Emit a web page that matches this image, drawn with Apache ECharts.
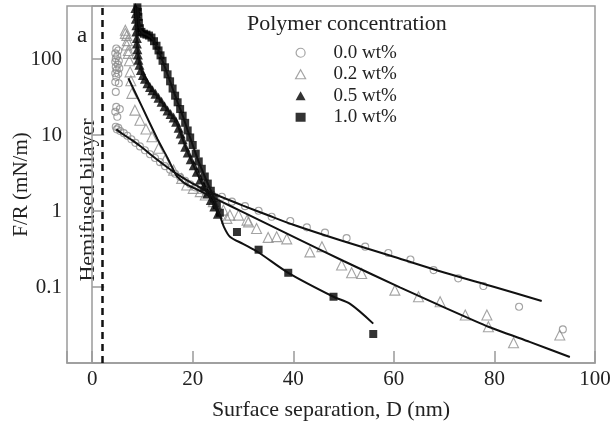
<!DOCTYPE html>
<html><head><meta charset="utf-8">
<script src="https://cdn.jsdelivr.net/npm/echarts@6/dist/echarts.min.js"></script>
<style>html,body{margin:0;padding:0;background:#fff}#c{width:611px;height:424px}</style>
</head><body><div id="c"></div>
<script>
// ---- data (D in nm, F/R in mN/m) ----
const seriesNames = ['0.0 wt%', '0.2 wt%', '0.5 wt%', '1.0 wt%'];
const xTicks = [0, 20, 40, 60, 80, 100];
const yTicks = [0.1, 1, 10, 100];
const hemifusedD = 2;

const pts00 = [
  [4.8,138],[5.2,130],[4.6,119],[5.0,110],[4.7,102],[5.3,95],[4.6,92],[5.1,85],[4.7,79],[5.4,76],[4.9,72],
  [4.6,65],[5.2,64],[4.8,58.5],[4.6,50],[5.3,48],[4.7,37],[4.8,23.5],[5.5,22],[4.6,20.3],[5.0,17.4],
  [4.7,12.9],[5.2,12.5],[4.9,11.9],
  [5.6,11.3],[6.3,10.6],[7.0,9.8],[7.8,8.8],[8.6,7.9],[9.5,7.1],[10.5,6.3],[11.5,5.6],[12.5,5.0],[13.5,4.4],
  [14.5,3.9],[15.5,3.5],[16.5,3.1],[17.5,2.8],[18.5,2.5],[19.5,2.25],[20.5,2.05],[21.5,1.9],[22.5,1.78],
  [23.8,1.65],[25.8,1.54],[27.8,1.33],[30.4,1.16],[33.1,1.01],[35.7,0.84],[39.4,0.74],[42.7,0.61],
  [46.3,0.52],[50.6,0.44],[54.3,0.34],[58.9,0.28],[63.3,0.23],[67.9,0.167],[72.8,0.13],[77.8,0.103],
  [84.9,0.055],[93.6,0.0277]
];
const pts02 = [
  [6.6,240],[6.9,205],[6.6,218],[7.0,175],[6.9,153],[7.2,130],[7.2,119],[7.4,95],[7.55,68],[7.7,52],
  [7.9,35.4],[8.5,21.3],[9.5,15.7],[10.7,12],[11.9,9.5],[13.2,6.7],[14.5,4.7],[16.2,3.46],[17.8,2.69],
  [18.8,2.2],[20.1,1.99],[21.5,1.8],[22.5,1.63],[24.1,1.33],[26.1,1.03],[26.8,0.80],[27.4,0.885],
  [29.1,0.885],[30.8,0.76],[31.1,0.72],[32.7,0.59],[35.0,0.45],[36.7,0.46],[38.7,0.43],[43.3,0.29],
  [45.7,0.34],[49.6,0.195],[51.6,0.154],[53.6,0.151],[60.2,0.091],[64.9,0.0745],[69.2,0.064],
  [74.2,0.0428],[78.5,0.0428],[78.8,0.030],[83.8,0.0185],[93.0,0.0234]
];
const pts05 = [
  [8.6,470],[8.7,400],[8.7,340],[8.8,280],[8.8,230],[8.9,190],[8.9,160],[9.0,135],[9.1,115],[9.2,98],
  [9.4,84],[9.7,72],[10.1,62],[10.5,55],[11.0,48],[11.5,43],[12.0,39],[12.6,35],[13.2,31],[13.8,27.5],
  [14.4,24],[15.0,21],[15.6,19],[16.2,17],[16.7,15],[17.2,12.5],[17.6,10.5],[18.0,8.8],[18.5,7.0],
  [19.0,5.9],[19.6,4.8],[20.2,4.0],[20.8,3.3],[21.5,2.6],[22.2,2.1],[22.9,1.7],[23.6,1.4],[24.3,1.15],[25.0,0.92]
];
const pts10 = [
  [9.0,480],[9.1,420],[9.2,360],[9.3,300],[9.5,255],[9.8,228],[10.3,216],[10.8,210],[11.3,204],[11.8,192],
  [12.3,172],[12.8,150],[13.2,130],[13.6,112],[14.0,95],[14.5,78],[15.0,63],[15.5,51],[16.0,41],[16.5,33],
  [17.0,27],[17.5,22],[18.0,18],[18.5,14.5],[19.0,11.5],[19.5,9.3],[20.0,7.4],[20.6,5.7],[21.2,4.5],
  [21.8,3.6],[22.4,2.85],[23.0,2.3],[23.6,1.85],[24.2,1.5],[24.8,1.2],[25.4,0.95],
  [28.8,0.53],[33.1,0.31],[39.0,0.154],[48.0,0.0745],[55.9,0.0241]
];
// fitted curves
const fit00 = [[4.8,11.9],[6,10.4],[8,8.5],[10,6.8],[12,5.3],[14,4.2],[16,3.35],[18,2.75],[20,2.3],[22,1.95],
  [25,1.6],[30,1.18],[35,0.88],[40,0.66],[50,0.40],[60,0.25],[70,0.155],[80,0.1],[89.4,0.0655]];
const fit02 = [[7.2,56],[10,23],[13,8.8],[15,5.0],[16.8,2.9],[18.5,2.3],[21,1.9],[25,1.4],[30,0.97],
  [41.4,0.415],[50,0.22],[61.2,0.099],[70,0.054],[78.8,0.030],[87,0.019],[95,0.012]];
const fit05 = [[8.65,480],[8.8,250],[9.0,150],[9.3,100],[10,65],[11,49],[12,39.5],[13.5,29],[15,21.5],
  [16.3,16.5],[17.3,12],[18.3,7.8],[19.5,5.0],[20.7,3.3],[22,2.2],[23.5,1.45],[25,0.95]];
const fit10 = [[9.05,480],[9.4,270],[10,222],[11,208],[12,185],[13,140],[14,95],[15,63],[16,41],[17,27],
  [18,18],[19,11.5],[20,7.4],[21,4.8],[22,3.3],[23,2.3],[24,1.6],[24.8,1.1],[25.4,0.88],[26.2,0.62],
  [27.4,0.46],[30,0.37],[33.1,0.285],[39,0.154],[48,0.0745],[51.3,0.06],[55.9,0.033]];

// ---- chart ----
const FONT = "'Liberation Serif','Times New Roman',serif";
const GRAY = '#8c8c8c';
const AXIS = '#9a9a9a';
const TXT = '#222';
const chart = echarts.init(document.getElementById('c'), null, {renderer: 'canvas'});

function fitSeries(name, data, extra) {
  return Object.assign({
    name: name, type: 'line', data: data, showSymbol: false, symbol: 'none', smooth: 0.3,
    lineStyle: {color: '#111', width: 2}, z: 5, silent: true
  }, extra || {});
}

const option = {
  animation: false,
  backgroundColor: '#fff',
  textStyle: {fontFamily: FONT},
  grid: {left: 67, right: 16, top: 6, bottom: 61, show: true, borderColor: AXIS, borderWidth: 1.5,
         backgroundColor: 'transparent', containLabel: false, outerBoundsMode: 'none'},
  title: {text: 'Polymer concentration', left: 247, top: 13, padding: 0,
          textStyle: {fontFamily: FONT, fontSize: 22, fontWeight: 'normal', color: TXT}},
  legend: {
    orient: 'vertical', left: 290, top: 37, itemWidth: 10, itemHeight: 9, itemGap: 0,
    textStyle: {fontFamily: FONT, fontSize: 19, color: TXT, lineHeight: 21.5, padding: [0, 0, 0, 23]},
    data: [
      {name: seriesNames[0], icon: 'circle', itemStyle: {color: '#fff', borderColor: GRAY, borderWidth: 1.2}},
      {name: seriesNames[1], icon: 'triangle', itemStyle: {color: '#fff', borderColor: GRAY, borderWidth: 1.2}},
      {name: seriesNames[2], icon: 'triangle', itemStyle: {color: '#000', borderWidth: 0}},
      {name: seriesNames[3], icon: 'rect', itemStyle: {color: '#000', borderWidth: 0}}
    ]
  },
  xAxis: {
    type: 'value', min: -5, max: 100, splitNumber: 5,
    name: 'Surface separation, D (nm)', nameLocation: 'middle', nameGap: 36,
    nameTextStyle: {fontFamily: FONT, fontSize: 22, color: TXT},
    axisLine: {lineStyle: {color: AXIS, width: 1.5}},
    axisTick: {inside: true, length: 12, lineStyle: {color: AXIS, width: 1.5}},
    axisLabel: {margin: 6, fontFamily: FONT, fontSize: 21, color: TXT,
      formatter: v => xTicks.indexOf(v) >= 0 ? String(v) : ''},
    splitLine: {show: false}
  },
  yAxis: {
    type: 'log', logBase: 10, min: 0.01, max: 500,
    name: 'F/R (mN/m)', nameLocation: 'middle', nameGap: 35, nameMoveOverlap: false,
    nameTextStyle: {fontFamily: FONT, fontSize: 21, color: TXT},
    axisLine: {lineStyle: {color: AXIS, width: 1.5}},
    axisTick: {inside: true, length: 12, lineStyle: {color: AXIS, width: 1.5}},
    axisLabel: {margin: 5, fontFamily: FONT, fontSize: 21, color: TXT,
      formatter: v => {
        const m = yTicks.find(t => Math.abs(Math.log10(v) - Math.log10(t)) < 1e-6);
        return m !== undefined ? String(m) : '';
      }},
    splitLine: {show: false}
  },
  graphic: [
    {type: 'text', left: 77, top: 24, style: {text: 'a', font: '23px ' + FONT, fill: TXT}},
    {type: 'text', x: 88, y: 200, rotation: Math.PI / 2,
     style: {text: 'Hemifused bilayer', font: '22px ' + FONT, fill: TXT, align: 'center', verticalAlign: 'middle'}}
  ],
  series: [
    {name: seriesNames[0], type: 'scatter', data: pts00, symbol: 'circle', symbolSize: 7,
     itemStyle: {color: 'rgba(255,255,255,0)', borderColor: GRAY, borderWidth: 1.1}, z: 2},
    {name: seriesNames[1], type: 'scatter', data: pts02, symbol: 'triangle', symbolSize: 10,
     itemStyle: {color: 'rgba(255,255,255,0)', borderColor: GRAY, borderWidth: 1.1}, z: 2},
    {name: seriesNames[2], type: 'scatter', data: pts05, symbol: 'triangle', symbolSize: 10,
     itemStyle: {color: '#000'}, z: 3},
    {name: seriesNames[3], type: 'scatter', data: pts10, symbol: 'rect', symbolSize: 8,
     itemStyle: {color: '#000'}, z: 3},
    fitSeries('fit00', fit00, {markLine: {silent: true, symbol: ['none', 'none'], label: {show: false},
      lineStyle: {color: '#111', width: 2.5, type: [7, 5]}, data: [{xAxis: hemifusedD}]}}),
    fitSeries('fit02', fit02, {smooth: 0.15}),
    fitSeries('fit05', fit05),
    fitSeries('fit10', fit10)
  ]
};
chart.setOption(option);
</script>
</body></html>
